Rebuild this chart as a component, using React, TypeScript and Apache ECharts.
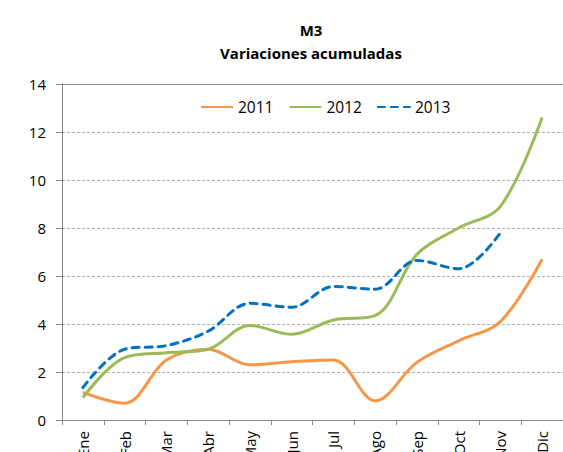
import React, { useEffect, useRef } from "react";
import * as echarts from "echarts";

const categories = ["Ene", "Feb", "Mar", "Abr", "May", "Jun", "Jul", "Ago", "Sep", "Oct", "Nov", "Dic"];
const series2011 = [1.15, 0.7, 2.5, 2.95, 2.3, 2.43, 2.5, 0.8, 2.4, 3.3, 4.1, 6.7];
const series2012 = [0.93, 2.6, 2.8, 2.95, 3.94, 3.57, 4.17, 4.35, 6.9, 8.0, 8.9, 12.6];
const series2013 = [1.35, 2.95, 3.1, 3.7, 4.86, 4.7, 5.56, 5.45, 6.65, 6.3, 7.8, null];
const yTicks = { min: 0, max: 14, interval: 2 };
const titleLines = ["M3", "Variaciones acumuladas"];
const seriesNames = ["2011", "2012", "2013"];

const FONT = "'Open Sans'";

export default function App() {
  const ref = useRef<HTMLDivElement>(null);
  useEffect(() => {
    document.body.style.margin = "0";
    if (!ref.current) return;
    const chart = echarts.init(ref.current, null, { renderer: "svg" });
    const lineBase = { type: "line", smooth: 0.35, symbol: "none", showSymbol: false };
    chart.setOption({
      animation: false,
      backgroundColor: "#ffffff",
      textStyle: { fontFamily: FONT },
      graphic: [
        {
          type: "text",
          x: 311,
          y: 30,
          style: { text: titleLines[0], font: `bold 15px ${FONT}`, fill: "#000", textAlign: "center", textVerticalAlign: "middle" },
        },
        {
          type: "text",
          x: 311,
          y: 53,
          style: { text: titleLines[1], font: `bold 15px ${FONT}`, fill: "#000", textAlign: "center", textVerticalAlign: "middle" },
        },
      ],
      legend: {
        left: 195,
        top: 94,
        itemWidth: 32,
        itemHeight: 14,
        itemGap: 15,
        itemStyle: { opacity: 0 },
        textStyle: { fontFamily: FONT, fontSize: 15.5, color: "#000" },
        data: seriesNames,
      },
      grid: { left: 62, top: 84, right: 0, bottom: 32, containLabel: false, outerBoundsMode: "none" },
      xAxis: [
        {
          type: "category",
          data: categories,
          boundaryGap: true,
          axisLine: { lineStyle: { color: "#868686", width: 1 } },
          axisTick: { show: true, length: 5, lineStyle: { color: "#868686" } },
          axisLabel: { rotate: 90, margin: 11, fontSize: 15, color: "#000", fontFamily: FONT, interval: 0 },
        },
        {
          type: "category",
          position: "top",
          data: categories,
          axisLine: { show: true, lineStyle: { color: "#868686", width: 1 } },
          axisTick: { show: false },
          axisLabel: { show: false },
        },
      ],
      yAxis: {
        type: "value",
        min: yTicks.min,
        max: yTicks.max,
        interval: yTicks.interval,
        axisLine: { show: true, lineStyle: { color: "#868686", width: 1 } },
        axisTick: { show: true, length: 6, lineStyle: { color: "#868686" } },
        axisLabel: { margin: 16, fontSize: 15, color: "#000", fontFamily: FONT },
        splitLine: { show: true, lineStyle: { color: "#b0b0b0", type: [3, 2], width: 1 } },
      },
      series: [
        { ...lineBase, name: seriesNames[0], data: series2011, lineStyle: { color: "#F79646", width: 3 }, itemStyle: { color: "#F79646" } },
        { ...lineBase, name: seriesNames[1], data: series2012, lineStyle: { color: "#9BBB59", width: 3 }, itemStyle: { color: "#9BBB59" } },
        {
          ...lineBase,
          name: seriesNames[2],
          data: series2013,
          lineStyle: { color: "#0070C0", width: 3, type: [7, 6], cap: "round" },
          itemStyle: { color: "#0070C0" },
        },
      ],
    });
    return () => chart.dispose();
  }, []);
  return <div ref={ref} style={{ width: 563, height: 452 }} />;
}
